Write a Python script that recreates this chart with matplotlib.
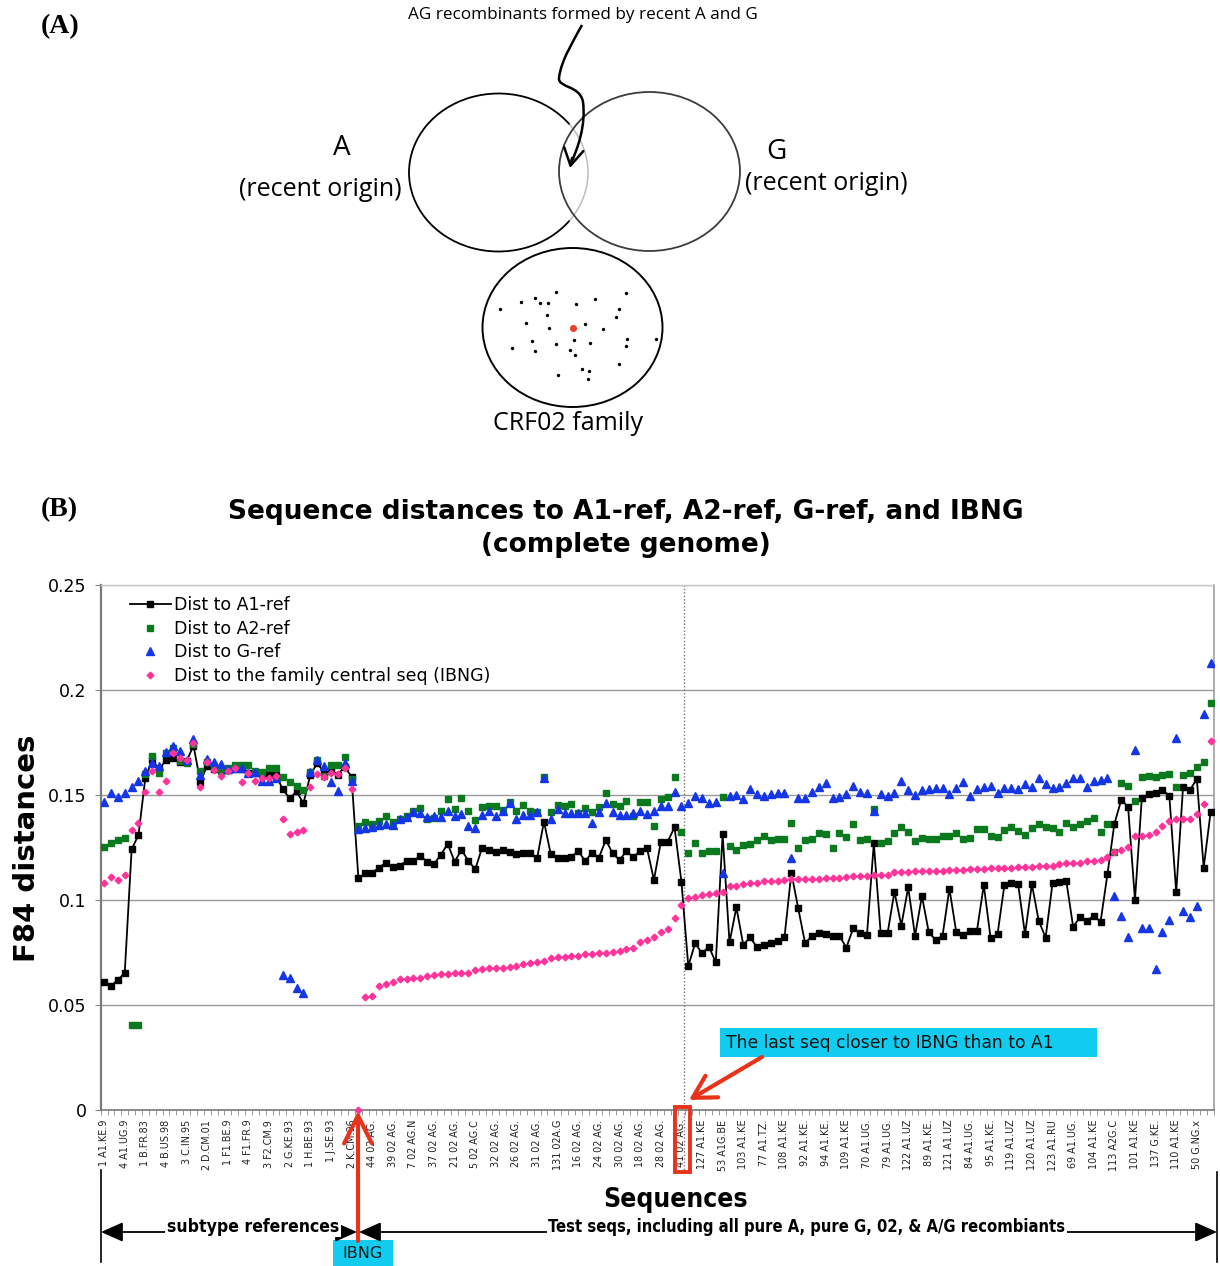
import numpy as np
import matplotlib.pyplot as plt
from matplotlib.patches import Ellipse, Arc, Rectangle, PathPatch
from matplotlib.path import Path

# -----------------------------
# Distances (F84) per sequence
# -----------------------------
dist_a1 = [
    0.0610, 0.0592, 0.0619, 0.0654, 0.1241, 0.1310, 0.1583, 0.1667, 0.1622, 0.1667,
    0.1678, 0.1659, 0.1662, 0.1735, 0.1563, 0.1640, 0.1622, 0.1625, 0.1619, 0.1625,
    0.1622, 0.1606, 0.1606, 0.1598, 0.1594, 0.1595, 0.1527, 0.1484, 0.1517, 0.1460,
    0.1595, 0.1651, 0.1608, 0.1616, 0.1597, 0.1635, 0.1587, 0.1103, 0.1127, 0.1130,
    0.1154, 0.1178, 0.1156, 0.1162, 0.1187, 0.1186, 0.1210, 0.1183, 0.1171, 0.1216,
    0.1267, 0.1183, 0.1238, 0.1187, 0.1146, 0.1249, 0.1238, 0.1230, 0.1238, 0.1230,
    0.1217, 0.1225, 0.1225, 0.1198, 0.1373, 0.1217, 0.1202, 0.1198, 0.1206, 0.1233,
    0.1186, 0.1225, 0.1202, 0.1286, 0.1222, 0.1190, 0.1233, 0.1203, 0.1235, 0.1246,
    0.1095, 0.1275, 0.1278, 0.1346, 0.1088, 0.0685, 0.0794, 0.0746, 0.0778, 0.0703,
    0.1313, 0.0798, 0.0965, 0.0787, 0.0822, 0.0775, 0.0786, 0.0797, 0.0806, 0.0822,
    0.1130, 0.0960, 0.0794, 0.0829, 0.0844, 0.0837, 0.0830, 0.0829, 0.0773, 0.0865,
    0.0841, 0.0833, 0.1270, 0.0841, 0.0841, 0.1040, 0.0878, 0.1060, 0.0829, 0.1019,
    0.0846, 0.0810, 0.0830, 0.1054, 0.0846, 0.0833, 0.0852, 0.0852, 0.1071, 0.0817,
    0.0837, 0.1071, 0.1079, 0.1075, 0.0837, 0.1075, 0.0900, 0.0821, 0.1079, 0.1084,
    0.1092, 0.0873, 0.0917, 0.0902, 0.0924, 0.0897, 0.1124, 0.1362, 0.1476, 0.1444,
    0.1000, 0.1487, 0.1505, 0.1508, 0.1524, 0.1497, 0.1037, 0.1540, 0.1524, 0.1576,
    0.1154, 0.1417,
]
dist_a2 = [
    0.1251, 0.1273, 0.1286, 0.1297, 0.0405, 0.0405, 0.1600, 0.1686, 0.1606, 0.1702,
    0.1722, 0.1660, 0.1651, 0.1745, 0.1614, 0.1659, 0.1640, 0.1616, 0.1627, 0.1643,
    0.1643, 0.1643, 0.1614, 0.1611, 0.1627, 0.1630, 0.1584, 0.1563, 0.1544, 0.1524,
    0.1610, 0.1665, 0.1590, 0.1643, 0.1643, 0.1683, 0.1576, 0.1352, 0.1373, 0.1362,
    0.1378, 0.1402, 0.1373, 0.1386, 0.1402, 0.1425, 0.1438, 0.1386, 0.1392, 0.1425,
    0.1480, 0.1433, 0.1484, 0.1425, 0.1379, 0.1441, 0.1449, 0.1448, 0.1429, 0.1468,
    0.1424, 0.1452, 0.1424, 0.1421, 0.1587, 0.1421, 0.1452, 0.1449, 0.1456, 0.1413,
    0.1440, 0.1418, 0.1444, 0.1511, 0.1456, 0.1449, 0.1473, 0.1400, 0.1465, 0.1465,
    0.1352, 0.1481, 0.1492, 0.1587, 0.1325, 0.1225, 0.1270, 0.1225, 0.1235, 0.1235,
    0.1489, 0.1257, 0.1238, 0.1262, 0.1267, 0.1286, 0.1305, 0.1286, 0.1290, 0.1290,
    0.1368, 0.1249, 0.1286, 0.1290, 0.1320, 0.1314, 0.1246, 0.1320, 0.1302, 0.1362,
    0.1286, 0.1290, 0.1433, 0.1273, 0.1281, 0.1317, 0.1346, 0.1322, 0.1283, 0.1294,
    0.1290, 0.1290, 0.1305, 0.1306, 0.1317, 0.1289, 0.1297, 0.1338, 0.1338, 0.1306,
    0.1298, 0.1333, 0.1346, 0.1330, 0.1310, 0.1341, 0.1362, 0.1346, 0.1344, 0.1322,
    0.1365, 0.1349, 0.1362, 0.1378, 0.1392, 0.1322, 0.1360, 0.1227, 0.1556, 0.1544,
    0.1471, 0.1584, 0.1592, 0.1584, 0.1595, 0.1598, 0.1540, 0.1595, 0.1603, 0.1635,
    0.1659, 0.1937,
]
dist_g = [
    0.1468, 0.1511, 0.1492, 0.1508, 0.1540, 0.1567, 0.1614, 0.1651, 0.1638, 0.1703,
    0.1733, 0.1710, 0.1667, 0.1765, 0.1595, 0.1671, 0.1659, 0.1649, 0.1622, 0.1630,
    0.1630, 0.1603, 0.1608, 0.1567, 0.1567, 0.1583, 0.0643, 0.0627, 0.0580, 0.0559,
    0.1611, 0.1667, 0.1638, 0.1563, 0.1521, 0.1654, 0.1568, 0.1337, 0.1341, 0.1349,
    0.1357, 0.1363, 0.1357, 0.1384, 0.1394, 0.1421, 0.1416, 0.1397, 0.1400, 0.1397,
    0.1425, 0.1402, 0.1410, 0.1354, 0.1344, 0.1405, 0.1425, 0.1400, 0.1425, 0.1460,
    0.1384, 0.1405, 0.1405, 0.1418, 0.1580, 0.1384, 0.1432, 0.1413, 0.1413, 0.1413,
    0.1413, 0.1365, 0.1421, 0.1460, 0.1418, 0.1405, 0.1405, 0.1413, 0.1424, 0.1408,
    0.1424, 0.1448, 0.1449, 0.1513, 0.1446, 0.1462, 0.1497, 0.1484, 0.1460, 0.1465,
    0.1127, 0.1495, 0.1500, 0.1481, 0.1527, 0.1503, 0.1495, 0.1505, 0.1508, 0.1508,
    0.1202, 0.1487, 0.1484, 0.1516, 0.1540, 0.1556, 0.1487, 0.1492, 0.1503, 0.1543,
    0.1513, 0.1508, 0.1424, 0.1503, 0.1497, 0.1508, 0.1568, 0.1524, 0.1500, 0.1524,
    0.1527, 0.1532, 0.1532, 0.1503, 0.1535, 0.1563, 0.1497, 0.1529, 0.1540, 0.1543,
    0.1511, 0.1532, 0.1532, 0.1529, 0.1551, 0.1540, 0.1583, 0.1552, 0.1532, 0.1540,
    0.1559, 0.1579, 0.1579, 0.1537, 0.1568, 0.1571, 0.1579, 0.1019, 0.0924, 0.0822,
    0.1714, 0.0865, 0.0868, 0.0670, 0.0846, 0.0905, 0.1773, 0.0949, 0.0917, 0.0973,
    0.1886, 0.2127,
]
dist_ibng = [
    0.1080, 0.1108, 0.1095, 0.1119, 0.1333, 0.1368, 0.1513, 0.1614, 0.1516, 0.1567,
    0.1698, 0.1675, 0.1665, 0.1746, 0.1540, 0.1659, 0.1619, 0.1590, 0.1614, 0.1630,
    0.1563, 0.1603, 0.1567, 0.1583, 0.1583, 0.1590, 0.1386, 0.1313, 0.1322, 0.1333,
    0.1537, 0.1598, 0.1584, 0.1603, 0.1598, 0.1630, 0.1527, 0.0000, 0.0537, 0.0544,
    0.0590, 0.0600, 0.0608, 0.0622, 0.0624, 0.0627, 0.0630, 0.0640, 0.0643, 0.0646,
    0.0648, 0.0651, 0.0651, 0.0651, 0.0667, 0.0670, 0.0675, 0.0675, 0.0678, 0.0683,
    0.0687, 0.0695, 0.0702, 0.0703, 0.0710, 0.0725, 0.0730, 0.0730, 0.0735, 0.0735,
    0.0743, 0.0743, 0.0746, 0.0749, 0.0751, 0.0757, 0.0765, 0.0770, 0.0802, 0.0810,
    0.0825, 0.0849, 0.0860, 0.0913, 0.0976, 0.1011, 0.1013, 0.1024, 0.1029, 0.1035,
    0.1040, 0.1067, 0.1067, 0.1075, 0.1080, 0.1083, 0.1090, 0.1092, 0.1092, 0.1095,
    0.1098, 0.1098, 0.1098, 0.1100, 0.1100, 0.1103, 0.1106, 0.1106, 0.1111, 0.1114,
    0.1114, 0.1116, 0.1119, 0.1119, 0.1119, 0.1132, 0.1135, 0.1135, 0.1140, 0.1140,
    0.1140, 0.1140, 0.1140, 0.1143, 0.1143, 0.1143, 0.1146, 0.1146, 0.1148, 0.1151,
    0.1151, 0.1154, 0.1154, 0.1156, 0.1156, 0.1159, 0.1162, 0.1164, 0.1164, 0.1171,
    0.1175, 0.1178, 0.1178, 0.1186, 0.1186, 0.1190, 0.1206, 0.1227, 0.1238, 0.1254,
    0.1306, 0.1306, 0.1310, 0.1322, 0.1352, 0.1376, 0.1384, 0.1386, 0.1386, 0.1408,
    0.1456, 0.1759,
]

# every third sequence gets a name on the axis
seq_labels = [
    "1 A1.KE.9", "4 A1.UG.9", "1 B.FR.83", "4 B.US.98", "3 C.IN.95", "2 D.CM.01",
    "1 F1.BE.9", "4 F1.FR.9", "3 F2.CM.9", "2 G.KE.93", "1 H.BE.93", "1 J.SE.93",
    "2 K.CM.96", "44 02 AG.", "39 02 AG.", "7 02 AG.N", "37 02 AG.", "21 02 AG.",
    "5 02 AG.C", "32 02 AG.", "26 02 AG.", "31 02 AG.", "131 02A.G", "16 02 AG.",
    "24 02 AG.", "30 02 AG.", "18 02 AG.", "28 02 AG.", "41 02 AG.", "127 A1.KE",
    "53 A1G.BE", "103 A1.KE", "77 A1.TZ.", "108 A1.KE", "92 A1.KE.", "94 A1.KE.",
    "109 A1.KE", "70 A1.UG.", "79 A1.UG.", "122 A1.UZ", "89 A1.KE.", "121 A1.UZ",
    "84 A1.UG.", "95 A1.KE.", "119 A1.UZ", "120 A1.UZ", "123 A1.RU", "69 A1.UG.",
    "104 A1.KE", "113 A2G.C", "101 A1.KE", "137 G.KE.", "110 A1.KE", "50 G.NG.x",
]
y_ticks = [0, 0.05, 0.10, 0.15, 0.20, 0.25]
y_tick_labels = ["0", "0.05", "0.1", "0.15", "0.2", "0.25"]

ibng_idx = 37          # the family central sequence itself
last_closer_idx = 84   # last seq closer to IBNG than to A1

# dots of the CRF02 family cloud (diagram, pixel units)
dot_x = [499.7, 520.7, 535.3, 540.0, 547.7, 556.0, 575.7, 595.0, 626.0, 619.0,
         615.7, 546.7, 526.0, 549.0, 585.3, 602.7, 532.3, 556.0, 573.7, 590.0,
         627.3, 626.0, 655.7, 511.7, 535.3, 569.7, 575.0, 618.7, 557.7, 582.0,
         588.7, 588.0]
dot_y = [309.3, 302.0, 298.3, 302.7, 303.3, 291.7, 304.0, 299.0, 293.0, 309.0,
         316.7, 315.0, 322.7, 328.0, 324.0, 329.3, 340.7, 344.0, 340.0, 343.3,
         339.0, 346.0, 339.0, 348.0, 351.0, 350.0, 355.0, 363.7, 374.7, 369.3,
         371.0, 379.3]

RED = "#e8321a"
CYAN = "#12ccf0"
W, H = 1220, 1266

fig = plt.figure(figsize=(W / 100, H / 100), dpi=100)

# -----------------------------
# (B) distance chart
# -----------------------------
ax = fig.add_axes([100.7 / W, (H - 1110) / H, (1214 - 100.7) / W, 525 / H])
x = np.arange(len(dist_a1))

ax.plot(x, dist_a1, "-s", color="black", lw=1.3, ms=3.8, label="Dist to A1-ref", zorder=3)
ax.plot(x, dist_a2, "s", ls="none", color="#0b7a1e", ms=4.6, label="Dist to A2-ref", zorder=4)
ax.plot(x, dist_g, "^", ls="none", color="#1436e6", ms=5.2, label="Dist to G-ref", zorder=5)
ax.plot(x, dist_ibng, "D", ls="none", color="#ff3399", ms=3.4,
        label="Dist to the family central seq (IBNG)", zorder=6, clip_on=False)

ax.set_xlim(-0.5, len(x) - 0.5)
ax.set_ylim(0, 0.25)
ax.set_yticks(y_ticks)
ax.set_yticklabels(y_tick_labels, fontsize=12.5)
ax.yaxis.grid(True, color="#9a9a9a", lw=1)
ax.set_axisbelow(True)
ax.tick_params(axis="y", length=4, color="#888888", pad=6)

ax.set_xticks(np.arange(0, len(x), 3))
ax.set_xticklabels(seq_labels, rotation=90, fontsize=6.9, color="#222222")
ax.set_xticks(np.arange(-0.5, len(x), 1), minor=True)
ax.tick_params(axis="x", which="major", length=0, pad=7)
ax.tick_params(axis="x", which="minor", length=3.5, color="#888888")

for side, col, lw in [("left", "#7a7a7a", 1.6), ("bottom", "#7a7a7a", 1.2),
                      ("right", "#a0a0a0", 1.2), ("top", "#c8c8c8", 1.0)]:
    ax.spines[side].set_color(col)
    ax.spines[side].set_linewidth(lw)

ax.axvline(last_closer_idx + 0.4, ymin=-0.12, ymax=1, clip_on=False,
           color="#777777", ls=(0, (1, 1.5)), lw=1, zorder=2)

ax.legend(loc="upper left", bbox_to_anchor=(0.026, 0.979), frameon=False,
          fontsize=12.5, handlelength=2.4, handletextpad=0.15, labelspacing=0.32,
          borderaxespad=0, borderpad=0, numpoints=1)

# -----------------------------
# overlay in pixel units: (A) diagram and annotations
# -----------------------------
ov = fig.add_axes([0, 0, 1, 1], zorder=5)
ov.set_xlim(0, W)
ov.set_ylim(H, 0)
ov.axis("off")

ov.text(60, 27, "(A)", fontsize=20, fontweight="bold", family="Liberation Serif",
        ha="center", va="center")
ov.text(59, 510, "(B)", fontsize=20, fontweight="bold", family="Liberation Serif",
        ha="center", va="center")

# A, G and CRF02 circles
ov.add_patch(Arc((498.5, 172.5), 179, 158, theta1=34, theta2=326, color="black", lw=1.3))
ov.add_patch(Arc((498.5, 172.5), 179, 158, theta1=-34, theta2=34, color="#bdbdbd", lw=1.1))
ov.add_patch(Ellipse((649.5, 171.5), 181, 159, fill=False, ec="#3c3c3c", lw=1.3))
ov.add_patch(Ellipse((572.5, 327.5), 180, 159, fill=False, ec="black", lw=1.4))
ov.scatter(dot_x, dot_y, s=6, color="black", lw=0)
ov.scatter([572.7], [328], s=26, color="#e8402a", lw=0)

fa = "Open Sans"
ov.text(583, 15, "AG recombinants formed by recent A and G", fontsize=12.3,
        family=fa, ha="center", va="center")
ov.text(342, 148, "A", fontsize=20, family=fa, ha="center", va="center")
ov.text(320, 189, "(recent origin)", fontsize=18, family=fa, ha="center", va="center")
ov.text(776, 152, "G", fontsize=20, family=fa, ha="center", va="center")
ov.text(826, 184, "(recent origin)", fontsize=18, family=fa, ha="center", va="center")
ov.text(568, 423, "CRF02 family", fontsize=18, family=fa, ha="center", va="center")

# wavy pointer into the A/G overlap
verts = [(582, 25), (574, 40), (561, 60), (559, 78),
         (558, 88), (580, 85), (583, 102),
         (586, 125), (578, 148), (571, 163)]
codes = [Path.MOVETO] + [Path.CURVE4] * 9
ov.add_patch(PathPatch(Path(verts, codes), fill=False, lw=1.8, ec="black"))
ov.annotate("", xy=(570, 168), xytext=(572, 158),
            arrowprops=dict(arrowstyle="->,head_length=0.6,head_width=0.35",
                            lw=1.8, color="black", shrinkA=0, shrinkB=0,
                            mutation_scale=20))

# titles
ov.text(626, 512, "Sequence distances to A1-ref, A2-ref, G-ref, and IBNG",
        fontsize=19, fontweight="bold", ha="center", va="center")
ov.text(626, 545, "(complete genome)", fontsize=19, fontweight="bold",
        ha="center", va="center")
ov.text(27, 848, "F84 distances", fontsize=21, fontweight="bold", rotation=90,
        ha="center", va="center")

# callout for the last sequence closer to IBNG
ov.add_patch(Rectangle((720, 1028), 377, 29, color=CYAN, lw=0))
ov.text(726, 1042.5, "The last seq closer to IBNG than to A1", fontsize=12.3,
        color="#111111", ha="left", va="center")
ov.add_patch(Rectangle((675, 1107), 15, 65, fill=False, ec=RED, lw=2.8))
ov.annotate("", xy=(689, 1100), xytext=(762, 1057),
            arrowprops=dict(arrowstyle="->,head_length=0.8,head_width=0.45",
                            lw=3, color=RED, shrinkA=0, shrinkB=0, mutation_scale=20))

# IBNG pointer
ov.annotate("", xy=(358, 1111), xytext=(358, 1241),
            arrowprops=dict(arrowstyle="->,head_length=1.0,head_width=0.5",
                            lw=3, color=RED, shrinkA=0, shrinkB=0, mutation_scale=20))
ov.add_patch(Rectangle((333, 1240), 60, 26, color=CYAN, lw=0))
ov.text(362, 1254, "IBNG", fontsize=11.5, ha="center", va="center", color="#111111")

# sequence groups under the axis
ov.plot([101, 101], [1170, 1262], color="black", lw=1.2)
ov.plot([1217, 1217], [1172, 1262], color="black", lw=1.2)
for x0, x1 in [(101, 357), (359, 1217)]:
    ov.annotate("", xy=(x0, 1232), xytext=(x1, 1232),
                arrowprops=dict(arrowstyle="<|-|>,head_length=0.9,head_width=0.4",
                                lw=1.3, color="black", shrinkA=0, shrinkB=0,
                                mutation_scale=15))
ov.text(676, 1200, "Sequences", fontsize=19, fontweight="bold",
        ha="center", va="center", fontstretch="condensed")
ov.text(253, 1227, "subtype references", fontsize=12.6, fontweight="bold",
        ha="center", va="center", fontstretch="condensed",
        bbox=dict(fc="white", ec="none", pad=1))
ov.text(807, 1227, "Test seqs, including all pure A, pure G, 02, & A/G recombiants",
        fontsize=11.9, fontweight="bold", ha="center", va="center",
        fontstretch="condensed", bbox=dict(fc="white", ec="none", pad=1))

fig.savefig("out.png", dpi=100)
